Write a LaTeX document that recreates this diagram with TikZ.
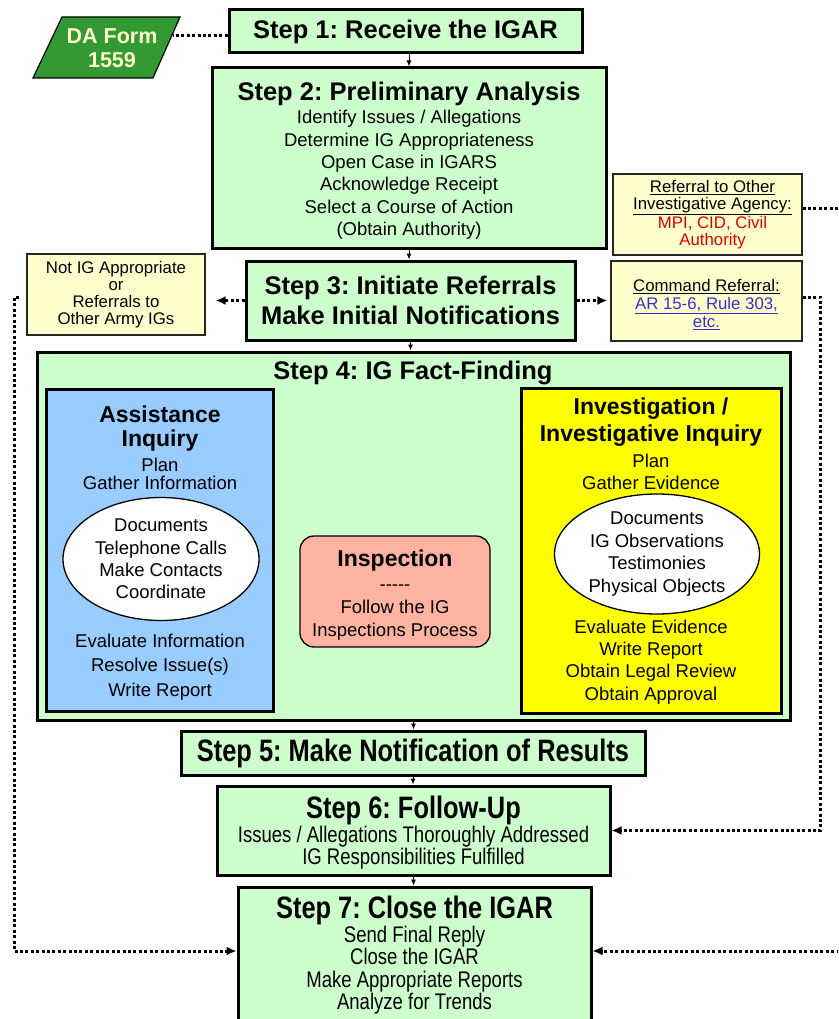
\documentclass[tikz,border=0pt]{standalone}
\usepackage{fontspec}
\setmainfont{Liberation Sans}
\newfontfamily\narrowfont[FakeStretch=0.82]{Liberation Sans}
\usetikzlibrary{arrows.meta,shapes.geometric}

\definecolor{stepgreen}{HTML}{CCFFCC}
\definecolor{noteyellow}{HTML}{FFFFCC}
\definecolor{assistblue}{HTML}{99CCFF}
\definecolor{investyellow}{HTML}{FFFF00}
\definecolor{inspsalmon}{HTML}{FFB3A0}
\definecolor{formgreen}{HTML}{339933}
\definecolor{formtext}{HTML}{FFFFCC}
\definecolor{linkblue}{HTML}{3333CC}
\definecolor{agencyred}{HTML}{E00000}

\newcommand{\stepfont}{\fontsize{25.5}{30}\selectfont\bfseries}
\newcommand{\linefont}{\fontsize{18.5}{22.4}\selectfont}
\newcommand{\boxhead}{\fontsize{23}{24}\selectfont\bfseries}
\newcommand{\notefont}{\fontsize{16.8}{17}\selectfont}
\newcommand{\narrowhead}{\narrowfont\fontsize{31}{34}\selectfont\bfseries}
\newcommand{\narrowline}{\narrowfont\fontsize{22.6}{22.4}\selectfont}
\newcommand{\lift}[1]{\rule{0pt}{#1}}
\frenchspacing

\begin{document}
\begin{tikzpicture}[x=1pt,y=-1pt,
    stepbox/.style={draw,line width=3pt,fill=stepgreen,align=center,inner sep=0pt,font=\linefont},
    notebox/.style={draw=black!85,line width=1.2pt,fill=noteyellow,align=center,inner sep=0pt,font=\notefont},
    kindbox/.style={draw,line width=3pt,inner sep=0pt},
    oval/.style={ellipse,draw,line width=1.3pt,fill=white,inner sep=0pt,align=center,font=\linefont},
    txt/.style={align=center,inner sep=0pt},
    flow/.style={line width=1pt,-{Latex[length=6pt,width=5pt]}},
    dotline/.style={line width=3pt,dash pattern=on 3pt off 2.4pt},
    dotarrow/.style={dotline,-{Latex[length=10pt,width=9pt]}}]
        \useasboundingbox (0,0) rectangle (838,1019);
        \clip (0,0) rectangle (838,1019);
        %% Intake
        \filldraw[fill=formgreen,draw=black,line width=1.2pt] (62,17) -- (180,17) -- (153,78) -- (33,78) -- cycle;
        \node[txt,text=formtext,font=\fontsize{21.5}{24}\selectfont\bfseries] (da) at (112,48) {DA Form\\1559};
        \coordinate (daedge) at (173,35.5);
        \node[stepbox,font=\stepfont,minimum width=353pt,minimum height=43pt] (s1) at (405.5,31.5)
            {Step 1: Receive the IGAR};
        \node[stepbox,minimum width=394pt,minimum height=180pt] (s2) at (409,158)
            {{\stepfont\lift{24pt}Step 2: Preliminary Analysis}\\[1pt]
             Identify Issues / Allegations\\ Determine IG Appropriateness\\ Open Case in IGARS\\
             Acknowledge Receipt\\ Select a Course of Action\\ (Obtain Authority)};
        \node[stepbox,font=\stepfont,minimum width=329pt,minimum height=79pt] (s3) at (410.5,300.5)
            {Step 3: Initiate Referrals\\ Make Initial Notifications};
        %% Referral notes
        \node[notebox,minimum width=178pt,minimum height=81pt] (notig) at (116,294.5)
            {Not IG Appropriate\\ or\\ Referrals to\\ Other Army IGs};
        \node[notebox,minimum width=189pt,minimum height=81pt] (agency) at (707.5,214.5)
            {\hspace*{10pt}\underline{Referral to Other}\\ \hspace*{10pt}\underline{Investigative Agency:}\\
             \hspace*{10pt}\textcolor{agencyred}{MPI, CID, Civil}\\ \hspace*{10pt}\textcolor{agencyred}{Authority}};
        \node[notebox,font=\fontsize{16.8}{18}\selectfont,minimum width=191pt,minimum height=80pt] (cmdref) at (706.5,301)
            {\lift{20pt}\underline{Command Referral:}\\ \textcolor{linkblue}{\underline{AR 15-6, Rule 303,}}\\
             \textcolor{linkblue}{\underline{etc.}}};
        %% Fact-finding
        \node[stepbox,minimum width=753pt,minimum height=368pt] (s4) at (413.5,536) {};
        \node[txt,font=\stepfont] (s4title) at (413,373) {Step 4: IG Fact-Finding};
        \node[kindbox,fill=assistblue,minimum width=227pt,minimum height=322pt] (assist) at (159.5,550) {};
        \node[txt,font=\boxhead] (assisthead) at (160,429) {Assistance\\ Inquiry};
        \node[txt,font=\fontsize{18.5}{18}\selectfont] (assistplan) at (160,474) {Plan\\ Gather Information};
        \node[oval,minimum width=196pt,minimum height=123pt] (assistoval) at (161,559)
            {Documents\\ Telephone Calls\\ Make Contacts\\ Coordinate};
        \node[txt,font=\fontsize{18.5}{24.5}\selectfont] (assistend) at (160,667)
            {Evaluate Information\\ Resolve Issue(s)\\ Write Report};
        \node[draw,line width=1.3pt,rounded corners=14pt,fill=inspsalmon,align=center,inner sep=0pt,
            font=\fontsize{18.5}{23}\selectfont,minimum width=190pt,minimum height=111pt] (insp) at (395,591.5)
            {{\boxhead\lift{23pt}Inspection}\\[1pt] -{}-{}-{}-{}-\\ Follow the IG\\ Inspections Process};
        \node[kindbox,fill=investyellow,minimum width=260pt,minimum height=325pt] (invest) at (651,550.5) {};
        \node[txt,font=\fontsize{23}{27}\selectfont\bfseries] (investhead) at (651,422)
            {Investigation /\\ Investigative Inquiry};
        \node[txt,font=\linefont] (investplan) at (651,472) {Plan\\ Gather Evidence};
        \node[oval,minimum width=205pt,minimum height=120pt] (investoval) at (657,554)
            {Documents\\ IG Observations\\ Testimonies\\ Physical Objects};
        \node[txt,font=\linefont] (investend) at (651,662)
            {Evaluate Evidence\\ Write Report\\ Obtain Legal Review\\ Obtain Approval};
        %% Closing steps
        \node[stepbox,font=\narrowhead,minimum width=464pt,minimum height=44pt] (s5) at (413,753)
            {Step 5: Make Notification of Results};
        \node[stepbox,font=\narrowline,minimum width=393pt,minimum height=89pt] (s6) at (413.5,830.5)
            {{\narrowhead\lift{27pt}Step 6: Follow-Up}\\ Issues / Allegations Thoroughly Addressed\\
             IG Responsibilities Fulfilled};
        \node[stepbox,font=\narrowline,minimum width=353pt,minimum height=136pt] (s7) at (414.5,955)
            {{\narrowhead Step 7: Close the IGAR}\\ Send Final Reply\\ Close the IGAR\\
             Make Appropriate Reports\\ Analyze for Trends};
        %% Flow
        \draw[flow] (s2.north |- s1.south) -- (s2.north);
        \draw[flow] (s2.south) -- (s2.south |- s3.north);
        \draw[flow] (s3.south) -- (s3.south |- s4.north);
        \draw[flow] (s4.south) -- (s4.south |- s5.north);
        \draw[flow] (s5.south) -- (s5.south |- s6.north);
        \draw[flow] (s6.south) -- (s6.south |- s7.north);
        %% Dotted links
        \draw[dotline] ([yshift=-4pt]s1.west) -- (daedge);
        \draw[dotarrow,shorten >=10pt] (s3.west) -- (s3.west -| notig.east);
        \draw[dotarrow,shorten >=3pt] (s3.east) -- (s3.east -| cmdref.west);
        \draw[dotarrow,shorten <=7pt] ([yshift=-3pt]notig.west) -- ++(-12,0) |- ([yshift=4pt]s7.west);
        \draw[dotarrow] ([yshift=4pt]cmdref.east) -- ++(18,0) |- (s6.east);
        \coordinate (agencyout) at (845,208);
        \draw[dotline] ([yshift=6.5pt]agency.east) -- (agencyout);
        \coordinate (closein) at (845,951);
        \draw[dotarrow] (closein) -- ([yshift=4pt]s7.east);
    \end{tikzpicture}
\end{document}
